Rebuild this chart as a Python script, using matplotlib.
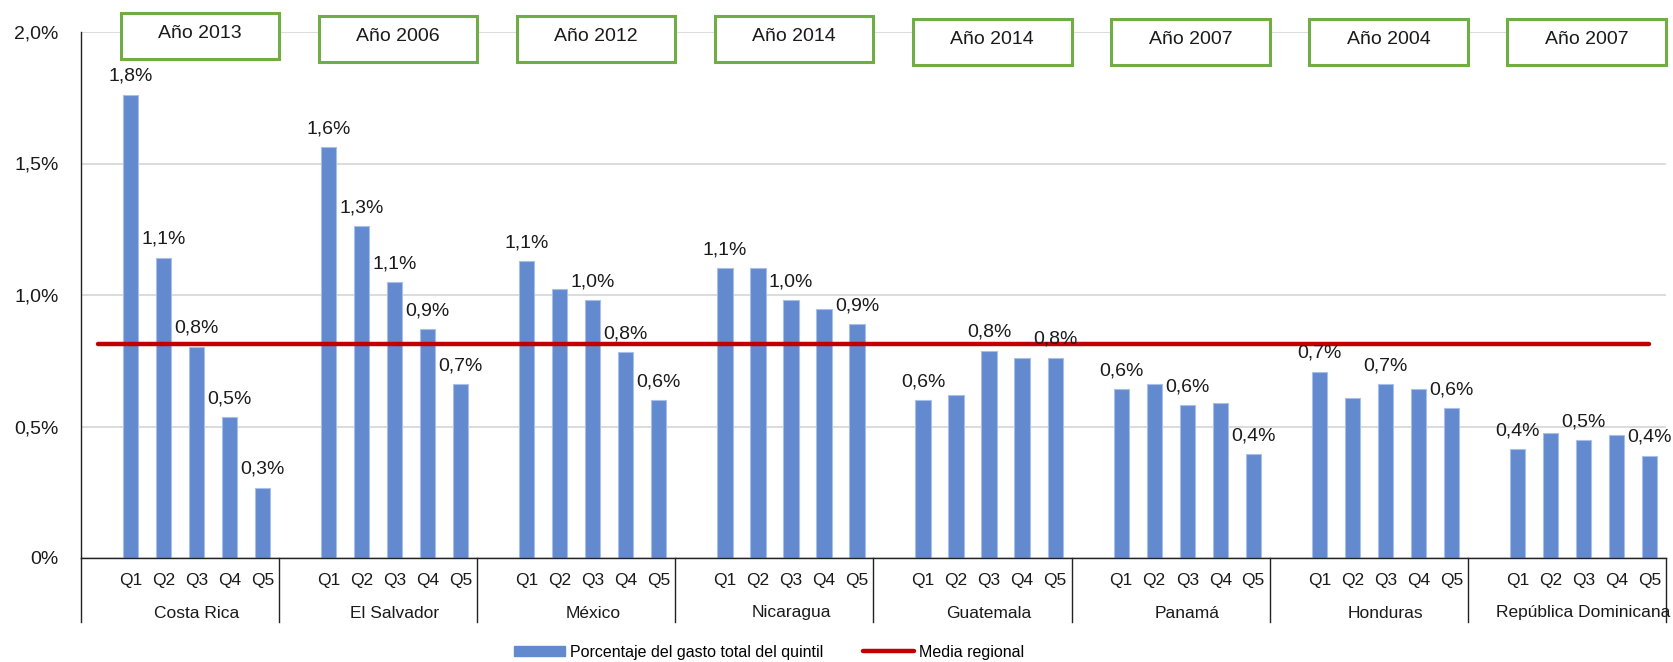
import matplotlib
matplotlib.use("Agg")
import matplotlib.pyplot as plt
from matplotlib.patches import Rectangle, Patch
from matplotlib.lines import Line2D
import matplotlib.transforms as mtransforms

# ---------------- data ----------------
countries = ["Costa Rica", "El Salvador", "México", "Nicaragua",
             "Guatemala", "Panamá", "Honduras", "República Dominicana"]
years = ["Año 2013", "Año 2006", "Año 2012", "Año 2014",
         "Año 2014", "Año 2007", "Año 2004", "Año 2007"]
quintiles = ["Q1", "Q2", "Q3", "Q4", "Q5"]

costa_rica = [1.762, 1.142, 0.803, 0.535, 0.267]
el_salvador = [1.563, 1.262, 1.048, 0.869, 0.660]
mexico = [1.128, 1.022, 0.981, 0.782, 0.601]
nicaragua = [1.103, 1.103, 0.981, 0.948, 0.889]
guatemala = [0.601, 0.621, 0.788, 0.762, 0.762]
panama = [0.641, 0.662, 0.580, 0.588, 0.394]
honduras = [0.708, 0.607, 0.662, 0.641, 0.569]
rep_dominicana = [0.414, 0.475, 0.449, 0.468, 0.389]

labels_cr = ["1,8%", "1,1%", "0,8%", "0,5%", "0,3%"]
labels_es = ["1,6%", "1,3%", "1,1%", "0,9%", "0,7%"]
labels_mx = ["1,1%", "", "1,0%", "0,8%", "0,6%"]
labels_ni = ["1,1%", "", "1,0%", "", "0,9%"]
labels_gt = ["0,6%", "", "0,8%", "", "0,8%"]
labels_pa = ["0,6%", "", "0,6%", "", "0,4%"]
labels_hn = ["0,7%", "", "0,7%", "", "0,6%"]
labels_rd = ["0,4%", "", "0,5%", "", "0,4%"]

media_regional = 0.812

yticks = [0, 0.5, 1.0, 1.5, 2.0]
ytick_labels = ["0%", "0,5%", "1,0%", "1,5%", "2,0%"]

series_name = "Porcentaje del gasto total del quintil"
line_name = "Media regional"

# ---------------- figure ----------------
BAR = "#6389CF"
BAR_EDGE = "#A8BFE8"
RED = "#C00000"
GREEN = "#70AD47"
TXT = "#1a1a1a"
WIDE = ["Liberation Sans", "DejaVu Sans"]

fig = plt.figure(figsize=(16.74, 6.62), dpi=100)
ax = fig.add_axes([81 / 1674, 1 - 558 / 662, (1666 - 81) / 1674, (558 - 32) / 662])

all_values = [costa_rica, el_salvador, mexico, nicaragua,
              guatemala, panama, honduras, rep_dominicana]
all_labels = [labels_cr, labels_es, labels_mx, labels_ni,
              labels_gt, labels_pa, labels_hn, labels_rd]

n_slots = 6  # one blank category before Q1..Q5 in each group
tick_pos, tick_lab = [], []
for g, (vals, labs) in enumerate(zip(all_values, all_labels)):
    xs = [g * n_slots + 1 + i for i in range(5)]
    ax.bar(xs, vals, width=0.46, color=BAR, edgecolor=BAR_EDGE, linewidth=0.8, zorder=2)
    for x, v, lab in zip(xs, vals, labs):
        if lab:
            ax.annotate(lab, (x, v), xytext=(0, 10), textcoords="offset points",
                        ha="center", va="baseline", fontsize=14, family=WIDE,
                        color=TXT, zorder=5)
    tick_pos.extend([g * n_slots] + xs)
    tick_lab.extend([""] + quintiles)

n_total = n_slots * len(countries)
ax.plot(range(n_total), [media_regional] * n_total, color=RED, lw=3.2,
        solid_capstyle="round", zorder=4)

ax.set_xlim(-0.5, n_total - 0.5)
ax.set_ylim(0, 2.0)
ax.set_yticks(yticks)
ax.set_yticklabels(ytick_labels, fontsize=14, family=WIDE, color=TXT)
ax.tick_params(axis="y", length=0, pad=16)
ax.set_xticks(tick_pos)
ax.set_xticklabels(tick_lab, fontsize=12.5, family=WIDE, color=TXT)
ax.tick_params(axis="x", length=0, pad=11)
ax.yaxis.grid(True, color="#d9d9d9", lw=1.3, zorder=0)
ax.set_axisbelow(True)
for s in ["top", "right"]:
    ax.spines[s].set_visible(False)
for s in ["left", "bottom"]:
    ax.spines[s].set_color("#222222")
    ax.spines[s].set_linewidth(1.0)

# group separators and country names
trans = mtransforms.blended_transform_factory(ax.transData, ax.transAxes)
sep_drop = -(622 - 558) / (558 - 32)
for g in range(len(countries) + 1):
    x = g * n_slots - 0.5
    ax.plot([x, x], [0, sep_drop], transform=trans, color="#222222", lw=1.0, clip_on=False)
name_y = -(613 - 558) / (558 - 32)
for g, c in enumerate(countries):
    xc = g * n_slots + 3.0
    ax.text(xc, name_y, c, transform=trans, ha="center", va="center",
            fontsize=12.5, family=WIDE, color=TXT)

# year boxes
box_w = 4.8
box_h = 0.175
box_shift = [0.072, 0.06, 0.06, 0.06, 0.048, 0.048, 0.048, 0.048]
for g, yr in enumerate(years):
    xc = g * n_slots + 3.1
    y0 = 1.826 + box_shift[g]
    ax.add_patch(Rectangle((xc - box_w / 2, y0), box_w, box_h, facecolor="white",
                           edgecolor=GREEN, lw=2.2, clip_on=False, zorder=6))
    ax.text(xc, y0 + box_h * 0.56, yr, ha="center", va="center", fontsize=14,
            family=WIDE, color=TXT, zorder=7, clip_on=False)

# legend
handles = [Patch(facecolor=BAR, edgecolor=BAR),
           Line2D([0], [0], color=RED, lw=3.2, solid_capstyle="round")]
leg = fig.legend(handles, [series_name, line_name], loc="center",
                 bbox_to_anchor=(769 / 1674, 1 - 652 / 662), ncol=2, frameon=False,
                 prop={"family": WIDE, "size": 11.5}, handlelength=3.2,
                 handleheight=0.6, columnspacing=2.5, handletextpad=0.3)

fig.savefig("out.png", dpi=100, facecolor="white")
